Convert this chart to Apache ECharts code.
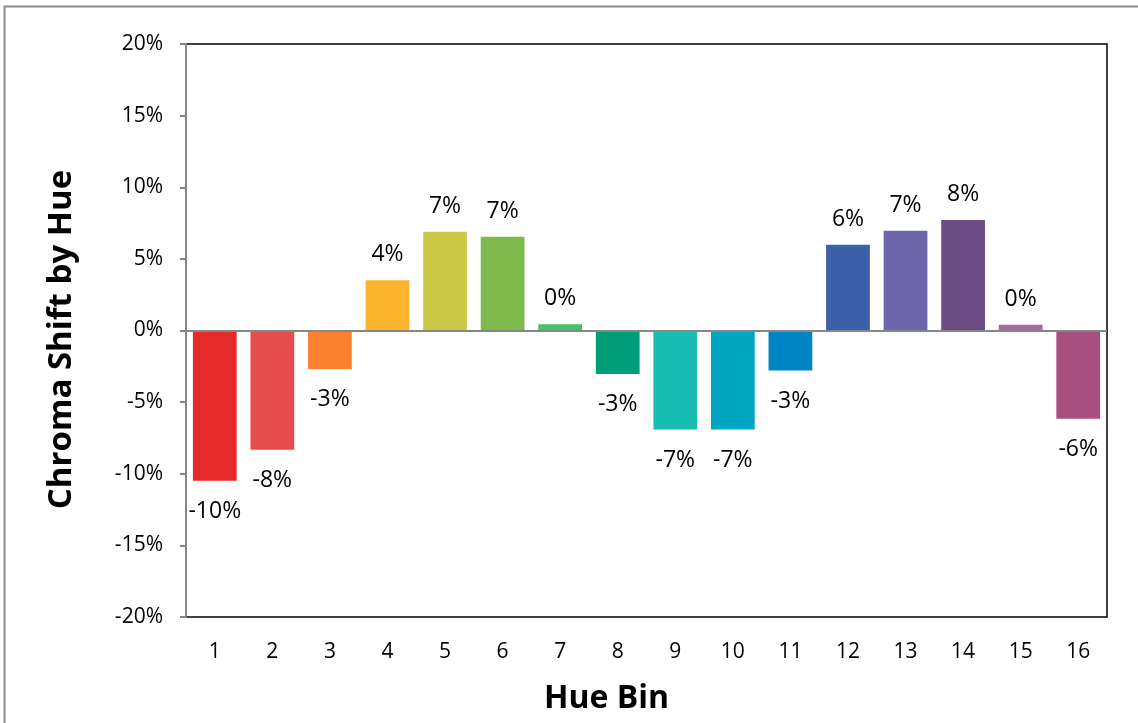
<!DOCTYPE html>
<html>
<head>
<meta charset="utf-8">
<script src="https://cdn.jsdelivr.net/npm/echarts@6/dist/echarts.min.js"></script>
<style>
html,body{margin:0;padding:0;background:#fff;}
#chart{width:1138px;height:723px;}
</style>
</head>
<body>
<div id="chart"></div>
<script>
const categories = ['1','2','3','4','5','6','7','8','9','10','11','12','13','14','15','16'];
const values = [-10.48, -8.33, -2.68, 3.51, 6.89, 6.54, 0.44, -3.03, -6.91, -6.91, -2.79, 5.98, 6.96, 7.72, 0.40, -6.16];
const barColors = ['#E52A2A','#E64C4C','#FB7F2E','#FDB32C','#CACA48','#7FBA4C','#43C16B','#009B77','#17BDB0','#00A6BF','#0085C4','#3B5FA8','#6D66AB','#6B4D84','#A06AA4','#A74F7E'];
const yTicks = {min: -20, max: 20, interval: 5};
const xTitle = 'Hue Bin';
const yTitle = 'Chroma Shift by Hue';

const chart = echarts.init(document.getElementById('chart'));
const FONT = '"Open Sans", "Noto Sans", sans-serif';

const data = values.map((v, i) => ({
  value: v,
  itemStyle: {color: barColors[i]},
  label: {position: v < 0 ? 'bottom' : 'top', distance: v < 0 ? 19 : 14}
}));

chart.setOption({
  backgroundColor: '#fff',
  animation: false,
  grid: {left: 186, top: 44, right: 31, bottom: 106, show: true, borderColor: '#000', borderWidth: 1.5, backgroundColor: 'transparent'},
  graphic: [
    {type: 'rect', shape: {x: 4.5, y: 6.5, width: 1300, height: 900}, style: {fill: 'none', stroke: '#8c8c8c', lineWidth: 2}, silent: true, z: 0},
    {type: 'text', left: 544, top: 683, style: {text: xTitle, font: 'bold 32px ' + FONT, fill: '#000'}}
  ],
  xAxis: {
    type: 'category',
    data: categories,
    axisLine: {show: false, onZero: false},
    axisTick: {show: false},
    axisLabel: {color: '#000', fontSize: 21, fontFamily: FONT, margin: 25},
    splitLine: {show: false}
  },
  yAxis: {
    type: 'value',
    min: yTicks.min, max: yTicks.max, interval: yTicks.interval,
    name: yTitle,
    nameLocation: 'middle',
    nameGap: 108,
    nameTextStyle: {color: '#000', fontSize: 33, fontWeight: 'bold', fontFamily: FONT, padding: [0, 18, 0, 0]},
    axisLine: {show: true, lineStyle: {color: '#868686', width: 2}},
    axisTick: {show: true, length: 6, lineStyle: {color: '#868686', width: 2}},
    axisLabel: {color: '#000', fontSize: 21, fontFamily: FONT, margin: 23, formatter: v => v + '%'},
    splitLine: {show: false}
  },
  series: [{
    type: 'bar',
    data: data,
    barCategoryGap: '24%',
    label: {
      show: true,
      color: '#000',
      fontSize: 23,
      fontFamily: FONT,
      formatter: p => Math.round(p.value) + '%'
    },
    markLine: {
      silent: true,
      symbol: 'none',
      label: {show: false},
      lineStyle: {color: '#868686', width: 2, type: 'solid'},
      data: [{yAxis: 0}],
      z: 10
    }
  }]
});
</script>
</body>
</html>
